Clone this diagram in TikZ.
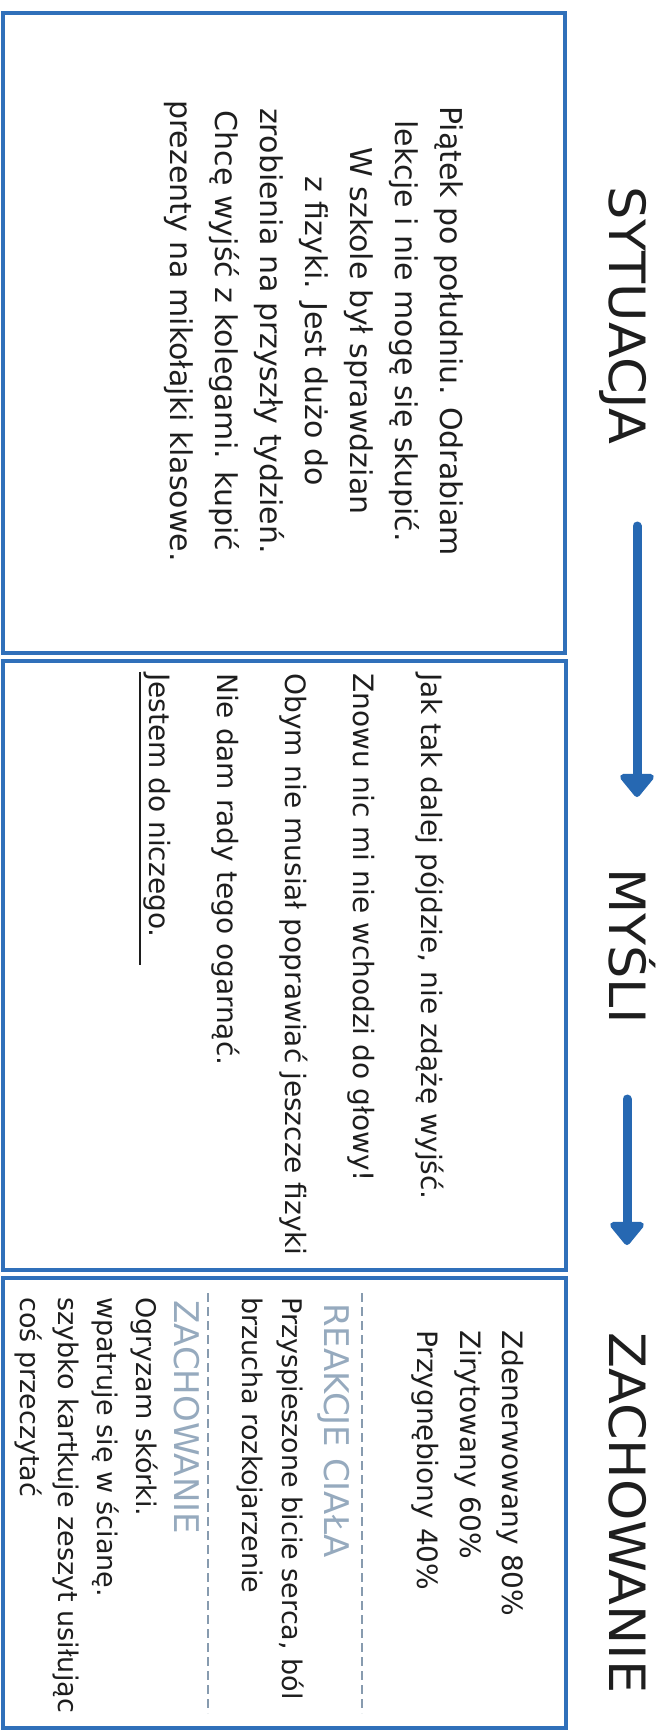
\documentclass[tikz,border=0pt]{standalone}
\usepackage{fontspec}
\setmainfont{DejaVu Sans}
\usetikzlibrary{arrows.meta}
\definecolor{frameblue}{RGB}{48,112,186}
\definecolor{arrowblue}{RGB}{38,104,178}
\definecolor{softgray}{RGB}{150,170,190}
\definecolor{dashgray}{RGB}{135,155,175}
\definecolor{ink}{RGB}{30,30,30}
\begin{document}
\begin{tikzpicture}[x=1pt,y=1pt,
 frame/.style={draw=frameblue, line width=3.2pt, rectangle, inner sep=0pt},
 title/.style={rotate=-90, inner sep=0pt, anchor=base west, text=ink, font=\fontsize{50}{56}\selectfont},
 body/.style={rotate=-90, inner sep=0pt, anchor=north west, align=left, text=ink},
 sublabel/.style={rotate=-90, inner sep=0pt, anchor=base west, text=softgray, font=\fontsize{34}{40}\selectfont},
 flow/.style={draw=arrowblue, line width=9pt, line cap=round, -{Triangle[width=39pt,length=25pt,round]}},
 sep/.style={draw=dashgray, line width=2pt, dash pattern=on 9pt off 5pt}
]
\useasboundingbox (0,0) rectangle (668,-1733);
\fill[white] (0,0) rectangle (668,-1733);
% frames
\node[frame, minimum width=562pt, minimum height=640pt] (box1) at (284,-333) {};
\node[frame, minimum width=563pt, minimum height=609pt] (box2) at (284.5,-965.5) {};
\node[frame, minimum width=563pt, minimum height=450pt] (box3) at (284.5,-1503) {};
% titles
\node[title] (t1) at (609,-186) {\scalebox{1.05}[1]{SYTUACJA}};
\node[title] (t2) at (609,-868) {\scalebox{1.05}[1]{MYŚLI}};
\node[title] (t3) at (609,-1332) {\scalebox{1.05}[1]{ZACHOWANIE}};
% arrows
\coordinate (a1s) at (637,-526);
\coordinate (a1e) at (637,-797);
\coordinate (a2s) at (627,-1099);
\coordinate (a2e) at (627,-1245);
\draw[flow] (a1s) -- (a1e);
\draw[flow] (a2s) -- (a2e);
% box 1
\node[body, anchor=center, align=center, font=\fontsize{30}{45}\selectfont] (s1) at (314,-331)
 {Piątek po południu. Odrabiam\\ lekcje i nie mogę się skupić.\\ W szkole był sprawdzian\\ z fizyki. Jest dużo do\\ zrobienia na przyszły tydzień.\\ Chcę wyjść z kolegami. kupić\\ prezenty na mikołajki klasowe.};
% box 2
\node[body, font=\fontsize{28}{68}\selectfont] (m1) at (444,-673)
 {Jak tak dalej pójdzie, nie zdążę wyjść.\\ Znowu nic mi nie wchodzi do głowy!\\ Obym nie musiał poprawiać jeszcze fizyki\\ Nie dam rady tego ogarnąć.\\ Jestem do niczego.};
\coordinate (u1) at (140,-672);
\coordinate (u2) at (140,-965);
\draw[ink, line width=2.5pt] (u1) -- (u2);
% box 3
\node[body, font=\fontsize{28}{42.5}\selectfont] (e1) at (524,-1330)
 {Zdenerwowany 80\%\\ Zirytowany 60\%\\ Przygnębiony 40\%};
\draw[sep] (362,-1293) -- (362,-1713);
\node[sublabel] (l1) at (324.5,-1303) {REAKCJE CIAŁA};
\node[body, font=\fontsize{27}{40}\selectfont] (r1) at (304,-1297)
 {Przyspieszone bicie serca, ból\\ brzucha rozkojarzenie};
\draw[sep] (208,-1293) -- (208,-1713);
\node[sublabel] (l2) at (174.5,-1300) {ZACHOWANIE};
\node[body, font=\fontsize{27}{38.7}\selectfont] (z1) at (158,-1297)
 {Ogryzam skórki.\\ wpatruje się w ścianę.\\ szybko kartkuje zeszyt usiłując\\ coś przeczytać};
\end{tikzpicture}
\end{document}
